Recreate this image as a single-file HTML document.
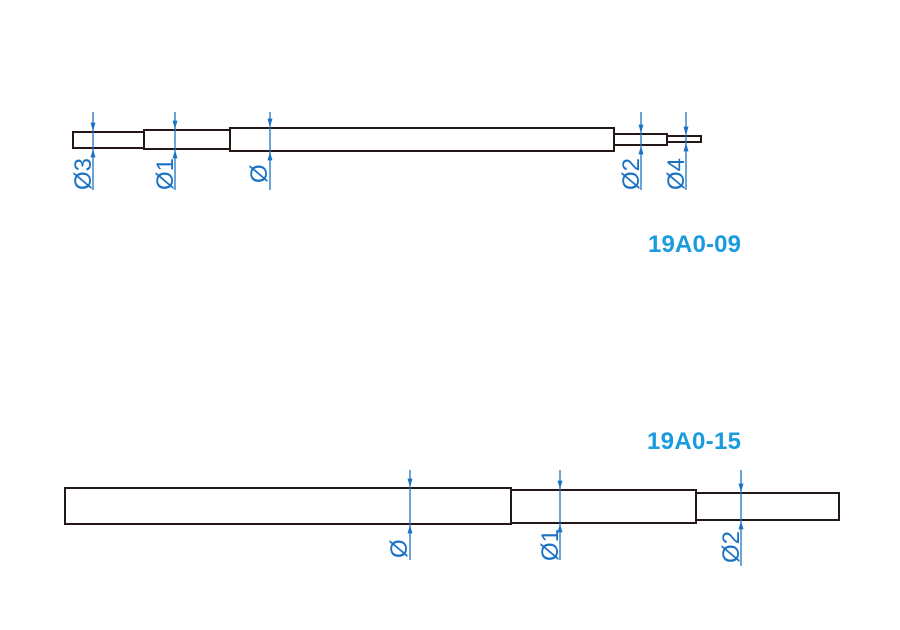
<!DOCTYPE html>
<html><head><meta charset="utf-8"><style>body{margin:0;background:#fff}svg{display:block}</style></head>
<body>
<svg width="900" height="630" viewBox="0 0 900 630" xmlns="http://www.w3.org/2000/svg">
<defs>
<marker id="a" viewBox="0 0 10 6" refX="10" refY="3" markerWidth="9" markerHeight="5" orient="auto-start-reverse" markerUnits="userSpaceOnUse"><path d="M0,0 L10,3 L0,6 Z" fill="#1a72c4"/></marker>
</defs>
<g fill="none" stroke="#231815" stroke-width="2">
<rect x="73" y="132" width="71" height="16"/>
<rect x="144" y="130" width="86" height="19"/>
<rect x="230" y="128" width="384" height="23"/>
<rect x="614" y="134" width="53" height="11"/>
<rect x="667" y="136" width="34" height="6"/>
<rect x="65" y="488" width="446" height="36"/>
<rect x="511" y="490" width="185" height="33"/>
<rect x="696" y="493" width="143" height="27"/>
</g>
<g stroke="#1a72c4" stroke-width="1.3">
<line x1="93" y1="112" x2="93" y2="131" marker-end="url(#a)"/><line x1="93" y1="190" x2="93" y2="149" marker-end="url(#a)"/><line x1="93" y1="131" x2="93" y2="149"/>
<line x1="175" y1="112" x2="175" y2="129" marker-end="url(#a)"/><line x1="175" y1="190" x2="175" y2="150" marker-end="url(#a)"/><line x1="175" y1="129" x2="175" y2="150"/>
<line x1="270" y1="112" x2="270" y2="127" marker-end="url(#a)"/><line x1="270" y1="190" x2="270" y2="152" marker-end="url(#a)"/><line x1="270" y1="127" x2="270" y2="152"/>
<line x1="641" y1="112" x2="641" y2="133" marker-end="url(#a)"/><line x1="641" y1="190" x2="641" y2="146" marker-end="url(#a)"/><line x1="641" y1="133" x2="641" y2="146"/>
<line x1="686" y1="112" x2="686" y2="135" marker-end="url(#a)"/><line x1="686" y1="190" x2="686" y2="143" marker-end="url(#a)"/><line x1="686" y1="135" x2="686" y2="143"/>
<line x1="410" y1="470" x2="410" y2="487" marker-end="url(#a)"/><line x1="410" y1="560" x2="410" y2="525" marker-end="url(#a)"/><line x1="410" y1="487" x2="410" y2="525"/>
<line x1="560" y1="470" x2="560" y2="489" marker-end="url(#a)"/><line x1="560" y1="560" x2="560" y2="524" marker-end="url(#a)"/><line x1="560" y1="489" x2="560" y2="524"/>
<line x1="741" y1="470" x2="741" y2="492" marker-end="url(#a)"/><line x1="741" y1="566" x2="741" y2="521" marker-end="url(#a)"/><line x1="741" y1="492" x2="741" y2="521"/>
</g>
<g fill="#1a72c4" font-family="Liberation Sans, sans-serif" font-size="24">
<text transform="translate(91,190) rotate(-90)">Ø3</text>
<text transform="translate(173,190) rotate(-90)">Ø1</text>
<text transform="translate(267,183) rotate(-90)">Ø</text>
<text transform="translate(639,190) rotate(-90)">Ø2</text>
<text transform="translate(684,190) rotate(-90)">Ø4</text>
<text transform="translate(407,558) rotate(-90)">Ø</text>
<text transform="translate(558,561) rotate(-90)">Ø1</text>
<text transform="translate(739,563) rotate(-90)">Ø2</text>
</g>
<g fill="#1a9be0" font-family="Liberation Sans, sans-serif" font-size="24" font-weight="bold">
<text x="648" y="252" textLength="93">19A0-09</text>
<text x="647" y="449" textLength="94">19A0-15</text>
</g>
</svg>
</body></html>
